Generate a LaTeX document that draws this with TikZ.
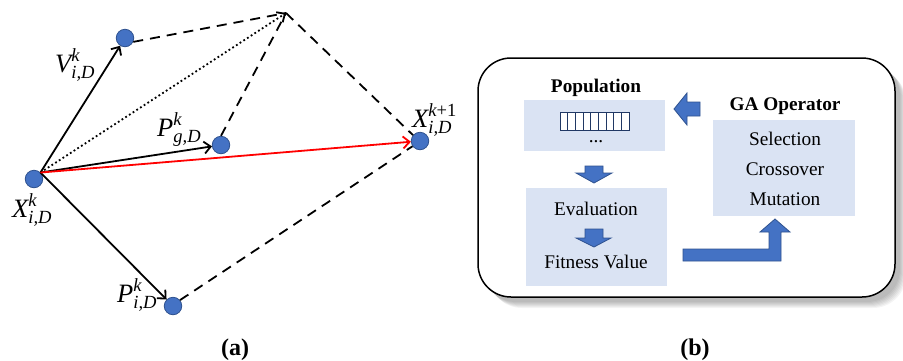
\documentclass[tikz,border=0pt]{standalone}
\usepackage{amsmath}
\usepackage{fontspec}
\setmainfont{Liberation Serif}
\usetikzlibrary{arrows.meta}

\definecolor{ptfill}{HTML}{4472C4}
\definecolor{ptline}{HTML}{2F528F}
\definecolor{boxfill}{HTML}{DAE3F3}
\definecolor{cellline}{HTML}{203864}

\begin{document}
\begin{tikzpicture}[x=1pt,y=-1pt,
  pt/.style={circle, draw=ptline, fill=ptfill, line width=0.8pt, minimum size=17.5pt, inner sep=0pt},
  tip/.style={-{Straight Barb[length=6.5pt,width=12pt,line width=1.8pt]}},
  vec/.style={line width=1.8pt, tip},
  dline/.style={line width=1.8pt, dash pattern=on 10pt off 7pt},
  dotline/.style={line width=1.8pt, dash pattern=on 1.8pt off 2.6pt, tip},
  lab/.style={font=\fontsize{26.5}{30}\selectfont, inner sep=0pt, anchor=base west},
  panel/.style={font=\fontsize{24}{28}\selectfont\bfseries, inner sep=0pt, anchor=base},
  txt/.style={font=\fontsize{19.3}{23}\selectfont, inner sep=0pt, anchor=base},
  btxt/.style={txt, font=\fontsize{19.3}{23}\selectfont\bfseries},
  bluebox/.style={fill=boxfill, draw=none, inner sep=0pt},
  blk/.style={fill=ptfill, draw=ptline, line width=0.8pt, line join=miter}]
\useasboundingbox (0,0) rectangle (903,360);

% ---------- (a) velocity update vectors ----------
\node[pt] (X)  at (34,179)  {};
\node[pt] (V)  at (125,38)  {};
\node[pt] (Pg) at (221,145) {};
\node[pt] (Xn) at (420,141) {};
\node[pt] (Pi) at (173,306) {};
\coordinate (A) at (286,13);

\draw[dline] (V.-25) -- (A);
\draw[dline] (Pg.north) -- (A);
\draw[dline] (A) -- (Xn.140);
\draw[dline] (Pi.40) -- (Xn.215);
\draw[dotline] (X.45) -- (A);
\draw[vec] (X.45) -- (V);
\draw[vec] (X.45) -- (Pg);
\draw[vec] (X.45) -- (Pi);
\draw[vec, red] (X.45) -- (Xn);

\node[lab] (lV)  at (55,72)   {$\textit{V}^{\textit{k}}_{\textit{i,D}}$};
\node[lab] (lPg) at (157,136) {$\textit{P}^{\textit{k}}_{\textit{g,D}}$};
\node[lab] (lX)  at (12,217)  {$\textit{X}^{\textit{k}}_{\textit{i,D}}$};
\node[lab] (lXn) at (412,127) {$\textit{X}^{\textit{k}\textrm{+1}}_{\textit{i,D}}$};
\node[lab] (lPi) at (117,302) {$\textit{P}^{\textit{k}}_{\textit{i,D}}$};

\node[panel] (pa) at (235,355) {(a)};

% ---------- (b) genetic algorithm loop ----------
\foreach \d in {5,6,...,11}
  \fill[black, opacity=0.045, rounded corners=33pt] (478+\d,58+\d) rectangle (895+\d,297+\d);
\node[draw, fill=white, line width=1.5pt, rounded corners=33pt,
      minimum width=417pt, minimum height=239pt, inner sep=0pt] (frame) at (686.5,177.5) {};

\node[bluebox, minimum width=141pt, minimum height=51pt] (pop)  at (594.5,125.5) {};
\node[bluebox, minimum width=141pt, minimum height=98pt] (eval) at (596.5,237)   {};
\node[bluebox, minimum width=142pt, minimum height=96pt] (ga)   at (784,168)     {};

% chromosome cells
\draw[cellline, fill=white, line width=0.8pt] (560,112) rectangle (629,130);
\foreach \i in {1,...,8}
  \draw[cellline, line width=0.8pt] (560+\i*69/9,112) -- ++(0,18);

\node[btxt] (tpop) at (596,92)  {Population};
\node[txt]  (tdot) at (596,142) {...};
\node[btxt] (tga)  at (785,110) {GA Operator};
\node[txt]  (tsel) at (785,145) {Selection};
\node[txt]  (tcro) at (785,175) {Crossover};
\node[txt]  (tmut) at (785,205) {Mutation};
\node[txt]  (tev)  at (596,215) {Evaluation};
\node[txt]  (tfit) at (596,268) {Fitness Value};

% block arrows
\draw[blk] (585,166) -- (603,166) -- (603,173) -- (612,173) -- (594,183) -- (576,173) -- (585,173) -- cycle;
\draw[blk] (585,229) -- (603,229) -- (603,238) -- (611,238) -- (594,247) -- (576,238) -- (585,238) -- cycle;
\draw[blk] (700,102) -- (687,102) -- (687,93) -- (674,109) -- (687,125) -- (687,116) -- (700,116) -- cycle;
\draw[blk] (683,249) -- (769,249) -- (769,232) -- (760,232) -- (775,219) -- (790,232) -- (781,232) -- (781,261) -- (683,261) -- cycle;

\node[panel] (pb) at (695,355) {(b)};
\end{tikzpicture}
\end{document}
